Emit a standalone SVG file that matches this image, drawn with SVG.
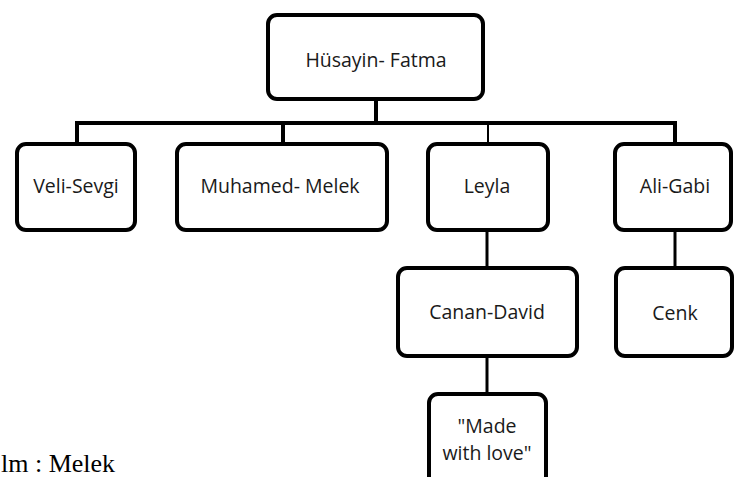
<svg xmlns="http://www.w3.org/2000/svg" width="734" height="477" viewBox="0 0 734 477">
<style>
.box{fill:#fff;stroke:#000;stroke-width:4}
.t{font-family:"Open Sans","Noto Sans",sans-serif;font-size:19.5px;fill:#1a1a1a;text-anchor:middle}
.c{stroke:#000;fill:none;stroke-linecap:butt}
.cap{font-family:"Liberation Serif","Times New Roman",serif;font-size:26px;fill:#000}
</style>
<rect width="734" height="477" fill="#fff"/>
<g id="connectors">
<line class="c" x1="376" y1="100" x2="376" y2="123" stroke-width="4"/>
<line class="c" x1="75" y1="123" x2="677" y2="123" stroke-width="4"/>
<line class="c" x1="77" y1="123" x2="77" y2="143" stroke-width="4"/>
<line class="c" x1="283" y1="123" x2="283" y2="143" stroke-width="4"/>
<line class="c" x1="488" y1="123" x2="488" y2="143" stroke-width="2"/>
<line class="c" x1="675" y1="123" x2="675" y2="143" stroke-width="4"/>
<line class="c" x1="487" y1="231" x2="487" y2="267" stroke-width="3"/>
<line class="c" x1="487" y1="357" x2="487" y2="393" stroke-width="3"/>
<line class="c" x1="675" y1="229" x2="675" y2="267" stroke-width="3"/>
</g>
<g id="n-husayin-fatma"><rect class="box" x="268" y="15" width="215" height="84" rx="9"/><text class="t" x="376" y="67">Hüsayin- Fatma</text></g>
<g id="n-veli-sevgi"><rect class="box" x="17" y="144" width="118" height="86" rx="9"/><text class="t" x="76" y="193">Veli-Sevgi</text></g>
<g id="n-muhamed-melek"><rect class="box" x="177" y="144" width="210" height="86" rx="9"/><text class="t" x="280" y="193">Muhamed- Melek</text></g>
<g id="n-leyla"><rect class="box" x="428" y="144" width="120" height="86" rx="9"/><text class="t" x="487" y="193">Leyla</text></g>
<g id="n-ali-gabi"><rect class="box" x="615" y="144" width="116" height="86" rx="9"/><text class="t" x="675" y="193">Ali-Gabi</text></g>
<g id="n-canan-david"><rect class="box" x="398" y="268" width="179" height="88" rx="9"/><text class="t" x="487" y="319">Canan-David</text></g>
<g id="n-cenk"><rect class="box" x="616" y="268" width="116" height="88" rx="9"/><text class="t" x="675" y="320">Cenk</text></g>
<g id="n-made-with-love"><rect class="box" x="429" y="394" width="117" height="100" rx="9"/><text class="t" x="487" y="433">"Made</text><text class="t" x="487" y="460">with love"</text></g>
<text class="cap" x="1" y="472">lm : Melek</text>
</svg>
